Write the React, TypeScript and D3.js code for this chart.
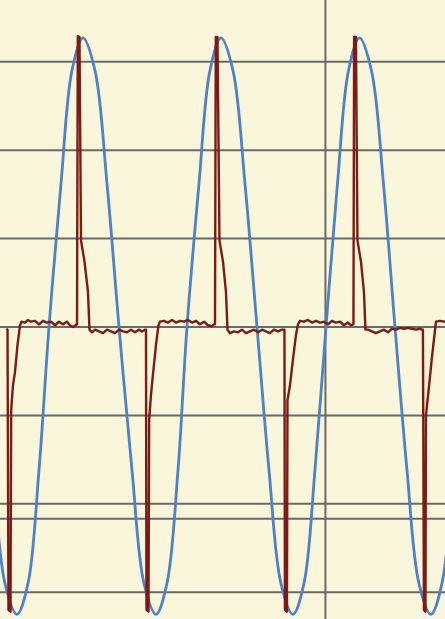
import React from 'react';
import * as d3 from 'd3';

// oscilloscope capture: mains voltage (blue) and rectifier input current (dark red)
const W = 445;
const H = 619;

// horizontal grid levels (divisions) plus the extra trigger marker
const gridLevels = [3, 2, 1, 0, -1, -2, -3];
const triggerLevel = -2.17;
// vertical cursor position (ms)
const cursorTime = 47.17;

// voltage trace: [ms, div]
const voltage: [number, number][] = [
  [-2.75, 0], [-1.01, -1.62], [0.72, -2.9], [2.46, -3.25], [4.06, -2.9],
  [5.65, -1.62], [7.1, 0], [8.84, 1.62], [10.43, 2.9], [12.03, 3.27],
  [13.77, 2.9], [15.51, 1.62], [17.25, 0], [19.13, -1.62], [20.87, -2.9],
  [22.61, -3.25], [24.2, -2.9], [25.8, -1.62], [27.1, 0], [28.84, 1.62],
  [30.43, 2.9], [32.03, 3.27], [33.77, 2.9], [35.51, 1.62], [37.25, 0],
  [38.99, -1.62], [40.72, -2.9], [42.46, -3.25], [44.06, -2.9], [45.65, -1.62],
  [47.25, 0], [48.91, 1.62], [50.51, 2.9], [52.1, 3.27], [53.84, 2.9],
  [55.58, 1.62], [57.25, 0], [58.99, -1.62], [60.72, -2.9], [62.46, -3.25],
  [64.06, -2.9], [65.65, -1.62]
];

// current trace: [ms, div]
const current: [number, number][] = [
  [0.94, -0.02], [1.09, -0.03], [1.23, -3.2], [1.52, -3.22], [1.62, -0.94],
  [1.88, -0.66], [2.17, -0.51], [2.54, -0.2], [2.9, 0.02], [3.12, 0.06],
  [3.62, 0.05], [4.06, 0.08], [4.49, 0.06], [5.07, 0.07], [5.65, 0.03],
  [6.23, 0.07], [6.81, 0.05], [7.39, 0.06], [7.97, 0.02], [8.55, 0.06],
  [9.13, 0.03], [9.71, 0.06], [10.14, 0.02], [10.58, 0.0], [10.94, 0.02],
  [11.16, 0.03], [11.28, 3.29], [11.52, 3.28], [11.74, 0.98], [12.25, 0.74],
  [12.75, 0.4], [12.97, -0.03], [13.33, -0.06], [13.77, -0.03], [14.35, -0.05],
  [14.93, -0.07], [15.51, -0.03], [16.09, -0.05], [16.67, -0.07], [17.25, -0.03],
  [17.83, -0.05], [18.41, -0.06], [18.99, -0.03], [19.57, -0.06], [20.14, -0.03],
  [20.58, -0.05], [21.01, -0.03], [21.16, -0.03], [21.23, -3.2], [21.52, -3.22],
  [21.62, -1.05], [21.88, -0.77], [22.17, -0.54], [22.61, -0.2], [22.97, 0.02],
  [23.19, 0.06], [23.77, 0.07], [24.35, 0.05], [24.93, 0.08], [25.51, 0.05],
  [26.09, 0.07], [26.67, 0.06], [27.25, 0.08], [27.83, 0.05], [28.41, 0.07],
  [28.99, 0.03], [29.57, 0.06], [30.14, 0.02], [30.72, 0.01], [31.01, 0.03],
  [31.16, 0.03], [31.28, 3.28], [31.52, 3.28], [31.81, 0.98], [32.32, 0.74],
  [32.75, 0.4], [32.97, -0.03], [33.33, -0.07], [33.91, -0.05], [34.49, -0.06],
  [35.07, -0.03], [35.65, -0.07], [36.23, -0.05], [36.81, -0.03], [37.39, -0.06],
  [37.97, -0.03], [38.55, -0.05], [39.13, -0.07], [39.71, -0.03], [40.29, -0.05],
  [40.87, -0.03], [41.23, -0.03], [41.3, -3.2], [41.59, -3.22], [41.67, -0.83],
  [42.03, -0.66], [42.46, -0.37], [42.9, -0.09], [43.19, 0.03], [43.48, 0.07],
  [44.06, 0.06], [44.64, 0.08], [45.22, 0.05], [45.8, 0.07], [46.38, 0.05],
  [46.96, 0.06], [47.54, 0.03], [48.12, 0.07], [48.7, 0.05], [49.28, 0.06],
  [49.86, 0.02], [50.43, 0.05], [50.87, 0.02], [51.16, 0.03], [51.23, 0.03],
  [51.33, 3.28], [51.59, 3.28], [51.81, 0.98], [52.32, 0.74], [52.75, 0.4],
  [52.97, -0.03], [53.33, -0.03], [53.91, -0.05], [54.49, -0.07], [55.07, -0.05],
  [55.65, -0.03], [56.23, -0.06], [56.81, -0.02], [57.39, -0.03], [57.97, -0.01],
  [58.55, -0.02], [59.13, -0.01], [59.71, -0.02], [60.29, -0.03], [60.87, -0.02],
  [61.23, -0.03], [61.3, -0.03], [61.45, -3.2], [61.67, -3.22], [61.74, -1.0],
  [62.17, -0.68], [62.61, -0.34], [63.19, 0.06], [63.77, 0.07], [64.35, 0.06],
  [64.93, 0.07]
];

const App = () => {
  //time axis in ms, vertical axis in divisions
  const x = d3.scaleLinear().domain([0, 64.5]).range([0, W]);
  const y = d3.scaleLinear().domain([-3.303, 3.699]).range([H, 0]);

  const voltageLine = d3
    .line<[number, number]>()
    .x((d) => x(d[0]))
    .y((d) => y(d[1]))
    .curve(d3.curveCatmullRom.alpha(0.5));

  const currentLine = d3
    .line<[number, number]>()
    .x((d) => x(d[0]))
    .y((d) => y(d[1]));

  const hLines = [...gridLevels, triggerLevel];

  return (
    <svg
      width={W}
      height={H}
      style={{ position: 'absolute', left: 0, top: 0, display: 'block' }}
    >
      <rect x={0} y={0} width={W} height={H} fill="#f9f6db" />
      <g>
        {hLines.map((v, i) => (
          <line
            key={i}
            x1={0}
            x2={W}
            y1={y(v)}
            y2={y(v)}
            stroke="#6b6a5f"
            strokeWidth={2}
          />
        ))}
        <line
          x1={x(cursorTime)}
          x2={x(cursorTime)}
          y1={0}
          y2={H}
          stroke="#6b6a5f"
          strokeWidth={2}
        />
      </g>
      <path
        d={voltageLine(voltage) || ''}
        fill="none"
        stroke="#4f81c4"
        strokeWidth={2.8}
        strokeLinejoin="round"
      />
      <path
        d={currentLine(current) || ''}
        fill="none"
        stroke="#7c1a16"
        strokeWidth={2.4}
        strokeLinejoin="round"
      />
    </svg>
  );
};

export default App;
